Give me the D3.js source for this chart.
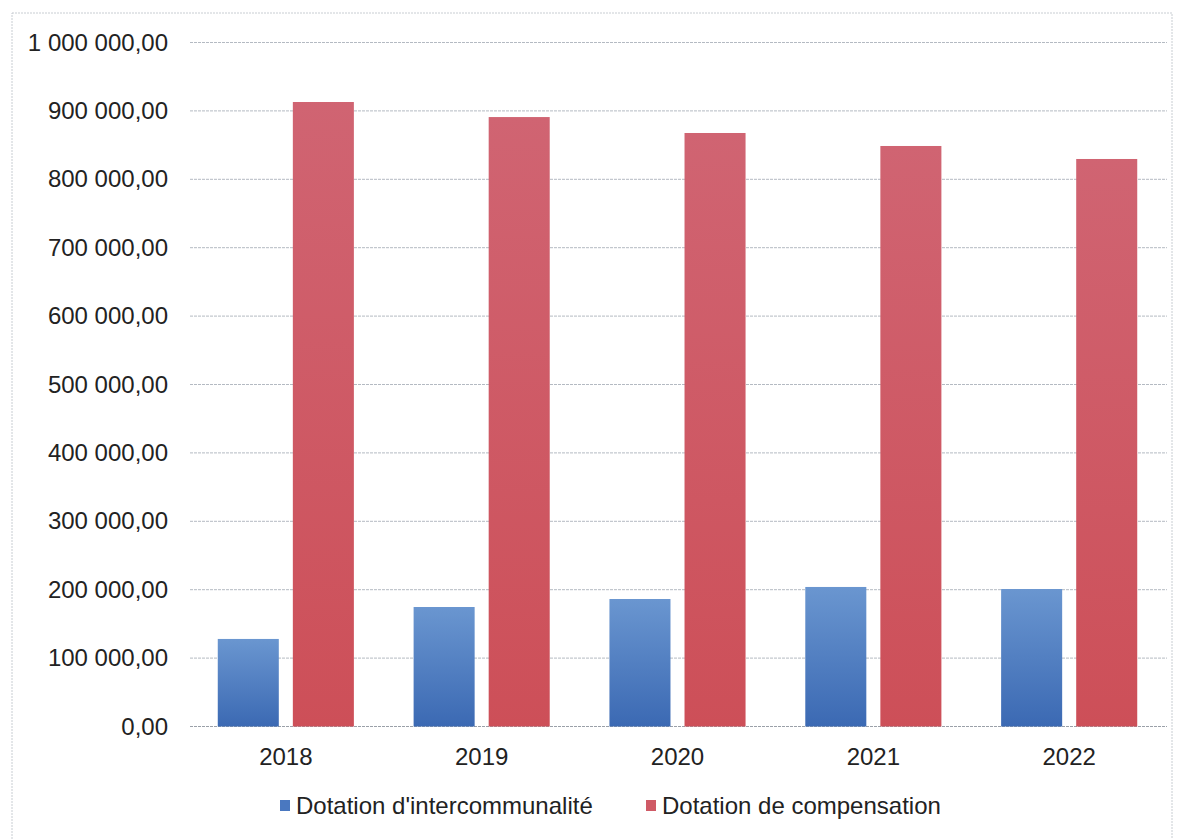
<!DOCTYPE html>
<html><head><meta charset="utf-8">
<script src="https://cdn.jsdelivr.net/npm/d3@7"></script>
<style>html,body{margin:0;padding:0;background:#fff}svg{display:block}</style>
</head><body>
<script>
const categories = ["2018","2019","2020","2021","2022"];
const seriesNames = ["Dotation d'intercommunalité","Dotation de compensation"];
const intercommunalite = [128000, 174700, 186400, 204000, 201000];
const compensation = [913000, 891000, 867700, 848700, 829700];
const yTicks = [0,100000,200000,300000,400000,500000,600000,700000,800000,900000,1000000];

const W = 1184, H = 839;
const svg = d3.select("body").append("svg").attr("width", W).attr("height", H);
const defs = svg.append("defs");
const gB = defs.append("linearGradient").attr("id","gB").attr("x1",0).attr("y1",0).attr("x2",0).attr("y2",1);
gB.append("stop").attr("offset","0%").attr("stop-color","#6a96d0");
gB.append("stop").attr("offset","100%").attr("stop-color","#3b69b3");
const gR = defs.append("linearGradient").attr("id","gR").attr("x1",0).attr("y1",0).attr("x2",0).attr("y2",1);
gR.append("stop").attr("offset","0%").attr("stop-color","#d06472");
gR.append("stop").attr("offset","100%").attr("stop-color","#cd4f58");

// outer border
svg.append("rect").attr("x",12).attr("y",13).attr("width",1160).attr("height",840)
  .attr("fill","none").attr("stroke","#c8cdd2").attr("stroke-width",1).attr("stroke-dasharray","2,1");

const x0 = d3.scaleBand().domain(categories).range([188,1167]).paddingInner(0.305).paddingOuter(0.152);
const x1 = d3.scaleBand().domain([0,1]).range([0, x0.bandwidth()]).paddingInner(0.187);
const y = d3.scaleLinear().domain([0,1000000]).range([726.5,42.5]);

const fmt = v => {
  const s = d3.format(",.2f")(v);
  return s.replace(/,/g," ").replace(".",",");
};

const FONT = "Liberation Sans, Arial, sans-serif";
const yAxis = d3.axisLeft(y).tickValues(yTicks).tickFormat(fmt).tickSize(0).tickPadding(0);
const ga = svg.append("g").attr("transform","translate(168,0)").call(yAxis);
ga.select(".domain").remove();
ga.selectAll("text").attr("font-family",FONT).attr("font-size",24).attr("fill","#222");

// gridlines
svg.append("g").selectAll("line").data(yTicks).join("line")
  .attr("x1",190).attr("x2",1167).attr("y1",d=>y(d)).attr("y2",d=>y(d))
  .attr("stroke",d=> d===0 ? "#9aa0a8" : "#b4bac2").attr("stroke-width",1)
  .attr("stroke-dasharray","3,1");

// bars
const series = [intercommunalite, compensation];
const fills = ["url(#gB)","url(#gR)"];
series.forEach((vals, si) => {
  svg.append("g").selectAll("rect").data(vals).join("rect")
    .attr("x",(d,i)=>x0(categories[i]) + x1(si))
    .attr("width",x1.bandwidth())
    .attr("y",d=>y(d)).attr("height",d=>y(0)-y(d))
    .attr("fill",fills[si]);
});

// x axis
const xAxis = d3.axisBottom(x0).tickSize(0).tickPadding(0);
const gx = svg.append("g").attr("transform","translate(0,748)").call(xAxis);
gx.select(".domain").remove();
gx.selectAll("text").attr("font-family",FONT).attr("font-size",24).attr("fill","#222");

// legend
const leg = svg.append("g").attr("font-family",FONT).attr("font-size",24).attr("fill","#222");
const legX = [280, 646];
const legColors = ["#4a78c0","#cf5a66"];
seriesNames.forEach((n,i)=>{
  leg.append("rect").attr("x",legX[i]).attr("y",800).attr("width",10).attr("height",11).attr("fill",legColors[i]);
  leg.append("text").attr("x",legX[i]+16).attr("y",814).text(n);
});
</script>
</body></html>
